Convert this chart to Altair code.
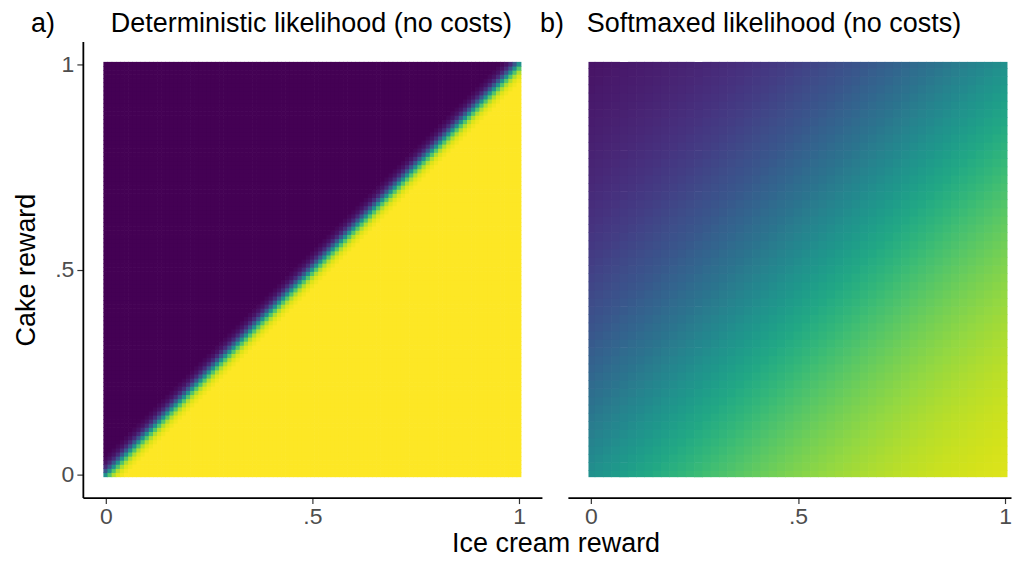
import altair as alt
import pandas as pd

alt.data_transformers.disable_max_rows()

FONT = "Liberation Sans"

# ---- data ----
det_rewards = [round(i * 0.01, 2) for i in range(101)]      # 101 x 101 grid
soft_rewards = [round(i * 0.02, 2) for i in range(51)]      # 51 x 51 grid

# deterministic likelihood by diagonal offset (grid steps of .01), clamped 0/1 beyond
det_offsets = [-4, -3, -2, -1, 0, 1, 2, 3, 4]
det_profile = [0.018, 0.047, 0.119, 0.269, 0.5, 0.731, 0.881, 0.953, 0.982]

# softmaxed likelihood by reward difference (ice cream - cake), steps of .02 from -1 to 1
soft_profile = [
    0.050, 0.053, 0.056, 0.059, 0.063, 0.066, 0.070, 0.074, 0.078, 0.082,
    0.087, 0.092, 0.097, 0.102, 0.107, 0.113, 0.119, 0.126, 0.132, 0.139,
    0.146, 0.154, 0.162, 0.170, 0.178, 0.187, 0.196, 0.205, 0.215, 0.225,
    0.236, 0.246, 0.258, 0.269, 0.281, 0.293, 0.305, 0.318, 0.331, 0.344,
    0.357, 0.371, 0.385, 0.399, 0.413, 0.427, 0.441, 0.456, 0.471, 0.485,
    0.500,
    0.515, 0.529, 0.544, 0.559, 0.573, 0.587, 0.602, 0.616, 0.629, 0.643,
    0.656, 0.670, 0.682, 0.695, 0.707, 0.719, 0.731, 0.743, 0.754, 0.764,
    0.775, 0.785, 0.795, 0.804, 0.813, 0.822, 0.830, 0.839, 0.846, 0.854,
    0.861, 0.868, 0.875, 0.881, 0.887, 0.893, 0.898, 0.903, 0.908, 0.913,
    0.918, 0.922, 0.926, 0.930, 0.934, 0.937, 0.941, 0.944, 0.947, 0.950,
]

tick_values = [0, 0.5, 1]
panel_labels = ["a)", "b)"]
panel_titles = ["Deterministic likelihood (no costs)", "Softmaxed likelihood (no costs)"]
x_title = "Ice cream reward"
y_title = "Cake reward"

# ---- tables ----
LO, HI = -0.0058, 1.0058
det_lookup = dict(zip(det_offsets, det_profile))
rows = []
for ix, x in enumerate(det_rewards):
    for iy, y in enumerate(det_rewards):
        k = ix - iy
        v = 0.0 if k < det_offsets[0] else 1.0 if k > det_offsets[-1] else det_lookup[k]
        rows.append((x - 0.0058, x + 0.0058, y - 0.0058, y + 0.0058, v))
det_df = pd.DataFrame(rows, columns=["x0", "x1", "y0", "y1", "p"])

rows = []
n = len(soft_rewards) - 1
for ix, x in enumerate(soft_rewards):
    for iy, y in enumerate(soft_rewards):
        v = soft_profile[ix - iy + n]
        rows.append((max(x - 0.0108, LO), min(x + 0.0108, HI),
                     max(y - 0.0108, LO), min(y + 0.0108, HI), v))
soft_df = pd.DataFrame(rows, columns=["x0", "x1", "y0", "y1", "p"])

# ---- chart ----
DOM = [-0.0555, 1.0555]
DOM_R = [-0.0555, 1.0143]
LABEL_EXPR = "datum.value == 0 ? '0' : datum.value == 1 ? '1' : '.5'"
TXT = 27
LBL = 23
H = 457

def x_axis():
    return alt.Axis(values=tick_values, labelExpr=LABEL_EXPR, title=None, grid=False,
                    domainColor="black", domainWidth=1.8, tickColor="#333333",
                    tickWidth=1.2, tickSize=6, labelFontSize=LBL, labelColor="#4d4d4d",
                    labelFont=FONT, labelPadding=2)

color = alt.Color("p:Q", scale=alt.Scale(scheme="viridis", domain=[0, 1]), legend=None)

left_heat = alt.Chart(det_df).mark_rect().encode(
    x=alt.X("x0:Q", scale=alt.Scale(domain=DOM, nice=False, zero=False), axis=x_axis()),
    x2="x1:Q",
    y=alt.Y("y0:Q", scale=alt.Scale(domain=DOM, nice=False, zero=False),
            axis=alt.Axis(values=tick_values, labelExpr=LABEL_EXPR, title=y_title, grid=False,
                          domainColor="black", domainWidth=1.8, tickColor="#333333",
                          tickWidth=1.2, tickSize=6, labelFontSize=LBL, labelColor="#4d4d4d",
                          labelFont=FONT, labelPadding=3, titleFont=FONT, titleFontSize=TXT,
                          titleFontWeight="normal", titleColor="black", titlePadding=14)),
    y2="y1:Q",
    color=color,
)

def text_layer(t, px, py):
    return alt.Chart(pd.DataFrame({"t": [t]})).mark_text(
        align="left", baseline="alphabetic", font=FONT, fontSize=TXT, color="black"
    ).encode(text="t:N", x=alt.value(px), y=alt.value(py))

left = alt.layer(
    left_heat,
    text_layer(panel_labels[0], -52, -9),
    text_layer(panel_titles[0], 28, -9),
).properties(width=460, height=H)

right_heat = alt.Chart(soft_df).mark_rect().encode(
    x=alt.X("x0:Q", scale=alt.Scale(domain=DOM_R, nice=False, zero=False), axis=x_axis()),
    x2="x1:Q",
    y=alt.Y("y0:Q", scale=alt.Scale(domain=DOM, nice=False, zero=False), axis=None),
    y2="y1:Q",
    color=color,
)

right = alt.layer(
    right_heat,
    text_layer(panel_labels[1], -28, -9),
    text_layer(panel_titles[1], 19, -9),
).properties(width=444, height=H)

chart = alt.hconcat(left, right, spacing=26, bounds="flush").properties(
    title=alt.TitleParams(x_title, orient="bottom", anchor="middle", dx=44, font=FONT,
                          fontSize=TXT, fontWeight="normal", color="black", offset=3),
    padding={"left": 4, "top": 2, "right": 0, "bottom": 0},
).resolve_scale(color="shared").configure_view(stroke=None)

chart.save("out.html", embed_options={"renderer": "svg", "actions": False})
